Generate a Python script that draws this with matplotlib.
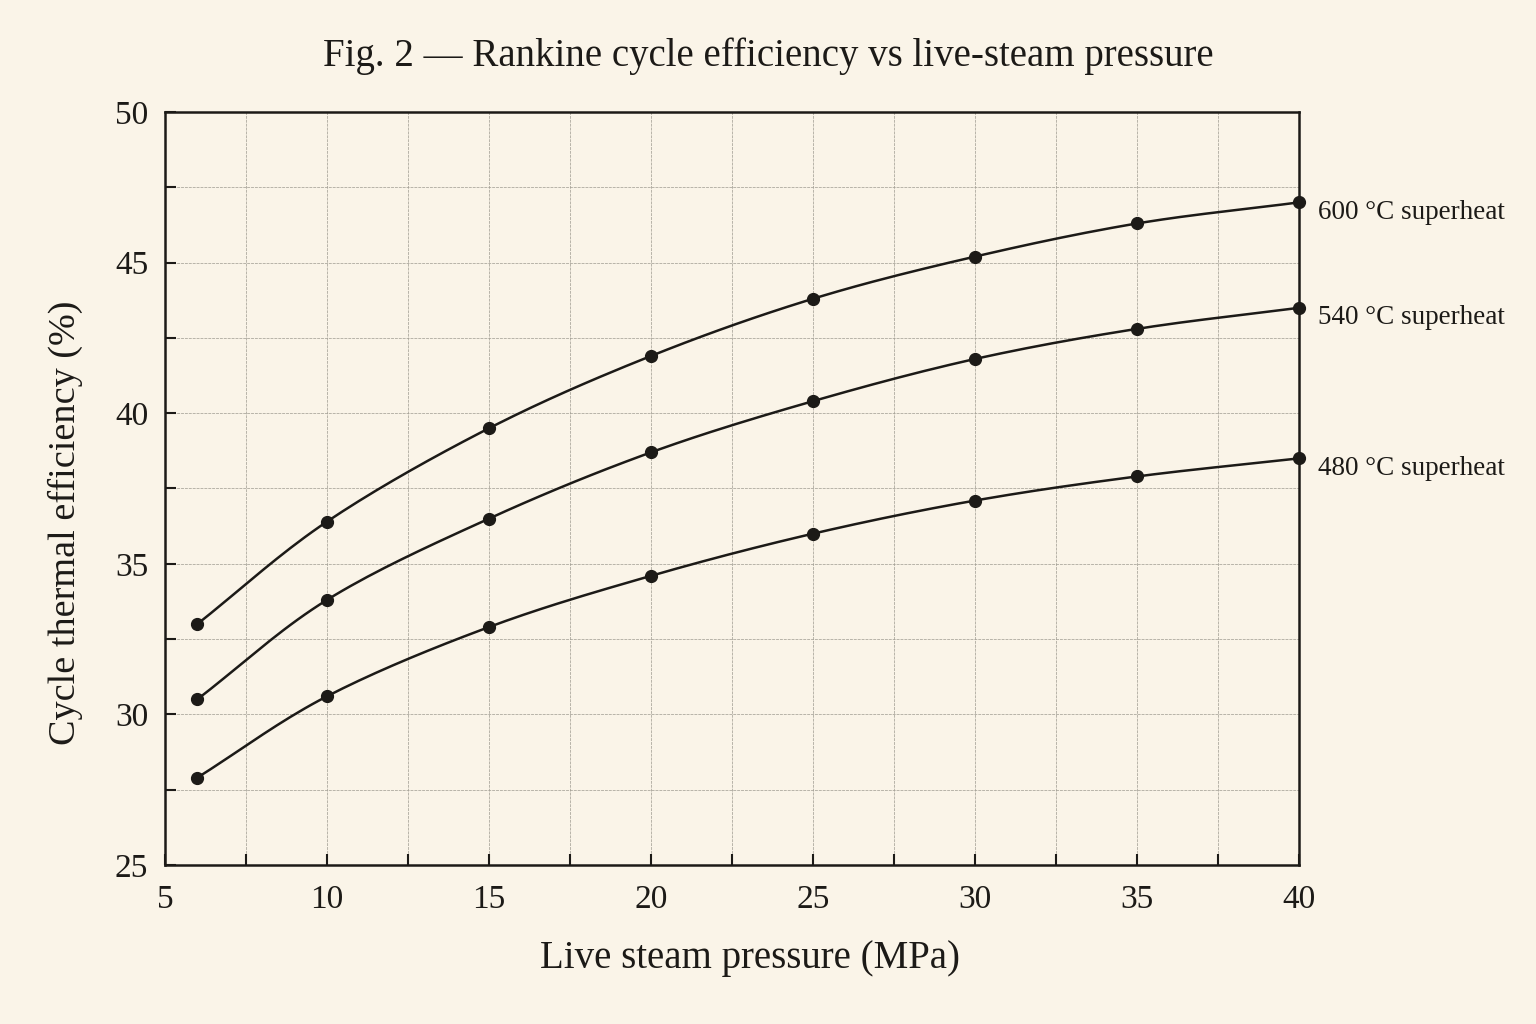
import numpy as np
import matplotlib.pyplot as plt
from matplotlib.ticker import MultipleLocator

# live-steam pressure (MPa) and efficiency (%) per superheat temperature
pressure = [6, 10, 15, 20, 25, 30, 35, 40]
eff_600 = [33.0, 36.4, 39.5, 41.9, 43.8, 45.2, 46.3, 47.0]
eff_540 = [30.5, 33.8, 36.5, 38.7, 40.4, 41.8, 42.8, 43.5]
eff_480 = [27.9, 30.6, 32.9, 34.6, 36.0, 37.1, 37.9, 38.5]
labels = ['600 °C superheat', '540 °C superheat', '480 °C superheat']

BG = '#faf4e8'
INK = '#1c1a17'


def smooth(x, y, n=20):
    # catmull-rom through the measured points, only for drawing the line
    x = np.asarray(x, float)
    y = np.asarray(y, float)
    px = np.concatenate([[2 * x[0] - x[1]], x, [2 * x[-1] - x[-2]]])
    py = np.concatenate([[2 * y[0] - y[1]], y, [2 * y[-1] - y[-2]]])
    xs, ys = [], []
    t = np.linspace(0, 1, n)
    for i in range(1, len(px) - 2):
        for p, out in ((px, xs), (py, ys)):
            p0, p1, p2, p3 = p[i - 1:i + 3]
            out.extend(0.5 * ((2 * p1) + (-p0 + p2) * t
                              + (2 * p0 - 5 * p1 + 4 * p2 - p3) * t ** 2
                              + (-p0 + 3 * p1 - 3 * p2 + p3) * t ** 3))
    return xs, ys


plt.rcParams['font.family'] = ['Liberation Serif', 'DejaVu Serif']

fig = plt.figure(figsize=(15.36, 10.24), dpi=100, facecolor=BG)
ax = fig.add_axes([0.1074, 0.1553, 0.7383, 0.7353])
ax.set_facecolor(BG)

for series, lab in zip([eff_600, eff_540, eff_480], labels):
    sx, sy = smooth(pressure, series)
    ax.plot(sx, sy, color=INK, lw=1.8, zorder=3)
    ax.plot(pressure, series, 'o', color=INK, ms=8.5, zorder=4, clip_on=False)
    ax.annotate(lab, xy=(pressure[-1], series[-1]), xytext=(14, -7),
                textcoords='offset points', fontsize=19.5, color=INK,
                va='center', ha='left', annotation_clip=False)

ax.set_xlim(5, 40)
ax.set_ylim(25, 50)
ax.xaxis.set_major_locator(MultipleLocator(5))
ax.xaxis.set_minor_locator(MultipleLocator(2.5))
ax.yaxis.set_major_locator(MultipleLocator(5))
ax.yaxis.set_minor_locator(MultipleLocator(2.5))

ax.grid(which='both', color='#a29e94', lw=0.7, ls=(0, (3, 1)), alpha=0.75)
ax.set_axisbelow(True)

ax.tick_params(which='both', direction='in', color=INK, width=1.5,
               top=False, right=False)
ax.tick_params(which='major', length=8, labelsize=24, labelcolor=INK)
ax.tick_params(which='minor', length=8)
ax.tick_params(axis='x', pad=14)
ax.tick_params(axis='y', pad=12)
for s in ax.spines.values():
    s.set_linewidth(1.8)
    s.set_color(INK)

ax.set_xlabel('Live steam pressure (MPa)', fontsize=28, color=INK)
ax.set_ylabel('Cycle thermal efficiency (%)', fontsize=27.5, color=INK)
ax.xaxis.set_label_coords(0.516, -0.10)
ax.yaxis.set_label_coords(-0.072, 0.455)
fig.suptitle('Fig. 2 — Rankine cycle efficiency vs live-steam pressure',
             fontsize=28, color=INK, y=0.963)

fig.savefig('out.png', dpi=100, facecolor=BG)
